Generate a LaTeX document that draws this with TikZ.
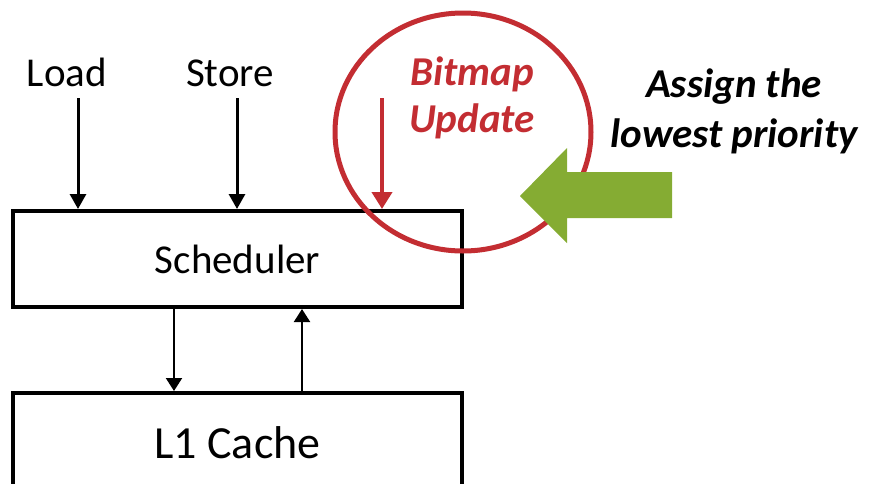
\documentclass[tikz,border=0pt]{standalone}
\usepackage{fontspec}
\setmainfont{Carlito}
\usetikzlibrary{positioning}
\usetikzlibrary{arrows.meta}
\definecolor{bmred}{RGB}{195,45,50}
\definecolor{prgreen}{RGB}{133,172,51}

\begin{document}
\begin{tikzpicture}
		[x=0.5pt, y=-0.5pt,
		lbl/.style={inner sep=0pt, font=\fontsize{20.5}{24}\selectfont},
		unit/.style={draw=black, line width=2pt, minimum width=224.5pt, minimum height=48pt, inner sep=0pt},
		inarr/.style={line width=1.5pt, -{Triangle[length=7.5pt, width=8pt]}},
		busarr/.style={line width=1pt, -{Triangle[length=6.5pt, width=8pt]}},
		notearr/.style={bmred, line width=2pt, -{Triangle[length=8.5pt, width=10pt]}}]
		\useasboundingbox (0,0) rectangle (869,483);

		\node[unit, font=\fontsize{20.5}{24}\selectfont] (sched) at (237.5,259) {Scheduler};
		\node[unit, below=41pt of sched, minimum height=50pt, font=\fontsize{23}{27}\selectfont] (l1) {L1 Cache};

		\node[lbl, anchor=base] (load) at (67,86) {Load};
		\node[lbl, anchor=base] (store) at (230,86) {Store};
		\node[lbl, anchor=base, bmred, align=center, font=\fontsize{20.5}{23.5}\selectfont\bfseries\itshape] (bitmap) at (472,132) {Bitmap\\Update};
		\node[lbl, anchor=base, align=center, font=\fontsize{20.5}{25}\selectfont\bfseries\itshape] (assign) at (734,147) {Assign the\\lowest priority};

		\draw[bmred, line width=2.5pt] (463,132) ellipse [x radius=128, y radius=119];

		\coordinate (ldin) at (78,98);
		\coordinate (stin) at (237,98);
		\coordinate (bmin) at (382,98);
		\draw[inarr] (ldin) -- (ldin |- sched.north);
		\draw[inarr] (stin) -- (stin |- sched.north);
		\draw[notearr] (bmin) -- (bmin |- sched.north);

		\coordinate (req) at (174,0);
		\coordinate (resp) at (302,0);
		\draw[busarr] (req |- sched.south) -- (req |- l1.north);
		\draw[busarr] (resp |- l1.north) -- (resp |- sched.south);

		\fill[prgreen] (520,196) -- (567,148) -- (567,172) -- (672,172) -- (672,218) -- (567,218) -- (567,243) -- cycle;
	\end{tikzpicture}
\end{document}
